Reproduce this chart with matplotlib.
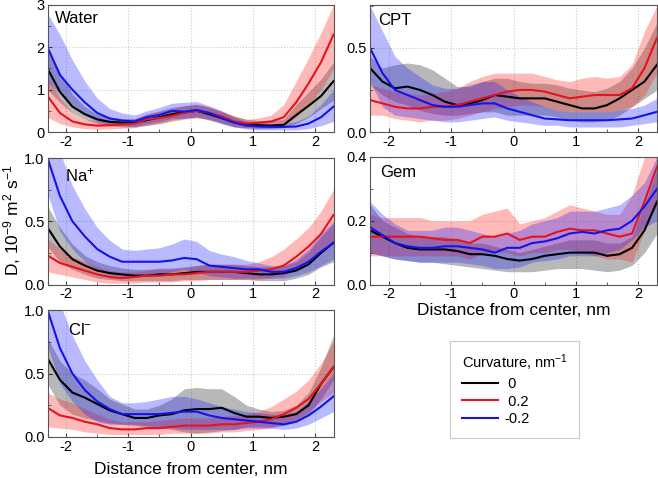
import matplotlib
matplotlib.use("Agg")
import matplotlib.pyplot as plt
from matplotlib.ticker import MultipleLocator, FormatStrFormatter
from matplotlib.lines import Line2D

plt.rcParams['font.family'] = ['Liberation Sans', 'DejaVu Sans']
plt.rcParams['mathtext.fontset'] = 'custom'
plt.rcParams['mathtext.rm'] = 'Liberation Sans'
plt.rcParams['mathtext.default'] = 'regular'
plt.rcParams['axes.unicode_minus'] = False

# distance from center, nm
x = [-2.3, -2.1, -1.9, -1.7, -1.5, -1.3, -1.1, -0.9, -0.7, -0.5, -0.3, -0.1,
     0.1, 0.3, 0.5, 0.7, 0.9, 1.1, 1.3, 1.5, 1.7, 1.9, 2.1, 2.3]

curv_labels = [' 0', ' 0.2', '-0.2']

# each panel: [curvature 0, curvature 0.2, curvature -0.2]
water_mean = [
    [1.5, 0.95, 0.6, 0.42, 0.3, 0.24, 0.22, 0.22, 0.28, 0.35, 0.42, 0.47, 0.5, 0.42, 0.33, 0.24, 0.19, 0.16, 0.15, 0.17, 0.4, 0.62, 0.85, 1.2],
    [0.85, 0.45, 0.25, 0.18, 0.15, 0.16, 0.18, 0.2, 0.3, 0.33, 0.38, 0.45, 0.5, 0.45, 0.37, 0.25, 0.2, 0.22, 0.25, 0.35, 0.7, 1.15, 1.65, 2.3],
    [2.0, 1.35, 1.0, 0.7, 0.45, 0.32, 0.27, 0.25, 0.35, 0.4, 0.5, 0.48, 0.52, 0.45, 0.33, 0.22, 0.15, 0.13, 0.12, 0.12, 0.13, 0.2, 0.35, 0.6],
]
water_lo = [
    [1.0, 0.7, 0.45, 0.3, 0.2, 0.15, 0.12, 0.12, 0.15, 0.2, 0.28, 0.32, 0.35, 0.28, 0.2, 0.12, 0.1, 0.08, 0.08, 0.1, 0.2, 0.35, 0.55, 0.75],
    [0.35, 0.2, 0.12, 0.08, 0.06, 0.07, 0.09, 0.1, 0.17, 0.2, 0.25, 0.3, 0.33, 0.3, 0.23, 0.13, 0.1, 0.1, 0.12, 0.15, 0.35, 0.65, 1.0, 1.5],
    [1.2, 0.9, 0.6, 0.4, 0.25, 0.17, 0.15, 0.13, 0.2, 0.25, 0.32, 0.33, 0.36, 0.3, 0.2, 0.12, 0.07, 0.05, 0.05, 0.05, 0.05, 0.08, 0.15, 0.25],
]
water_hi = [
    [2.0, 1.4, 0.9, 0.6, 0.42, 0.35, 0.32, 0.32, 0.42, 0.5, 0.58, 0.62, 0.65, 0.58, 0.48, 0.38, 0.3, 0.27, 0.27, 0.3, 0.65, 0.95, 1.25, 1.65],
    [1.3, 0.8, 0.45, 0.3, 0.27, 0.27, 0.28, 0.3, 0.43, 0.48, 0.55, 0.62, 0.66, 0.6, 0.5, 0.38, 0.3, 0.33, 0.4, 0.65, 1.2, 1.75, 2.35, 3.0],
    [2.8, 2.3, 1.7, 1.2, 0.8, 0.55, 0.45, 0.4, 0.5, 0.58, 0.68, 0.7, 0.72, 0.62, 0.5, 0.35, 0.25, 0.22, 0.2, 0.2, 0.25, 0.38, 0.65, 1.0],
]

cpt_mean = [
    [0.38, 0.3, 0.26, 0.27, 0.25, 0.22, 0.18, 0.16, 0.17, 0.19, 0.22, 0.21, 0.2, 0.2, 0.2, 0.18, 0.16, 0.14, 0.14, 0.16, 0.2, 0.25, 0.3, 0.4],
    [0.19, 0.17, 0.15, 0.14, 0.14, 0.15, 0.15, 0.16, 0.18, 0.2, 0.22, 0.24, 0.25, 0.25, 0.24, 0.22, 0.2, 0.21, 0.22, 0.22, 0.22, 0.26, 0.38, 0.56],
    [0.5, 0.35, 0.25, 0.22, 0.19, 0.16, 0.15, 0.15, 0.16, 0.17, 0.17, 0.14, 0.12, 0.1, 0.08, 0.075, 0.07, 0.07, 0.07, 0.07, 0.075, 0.08, 0.1, 0.12],
]
cpt_lo = [
    [0.28, 0.22, 0.18, 0.16, 0.13, 0.11, 0.1, 0.1, 0.11, 0.12, 0.12, 0.1, 0.1, 0.1, 0.1, 0.09, 0.07, 0.06, 0.06, 0.07, 0.1, 0.15, 0.2, 0.25],
    [0.1, 0.1, 0.08, 0.07, 0.06, 0.07, 0.07, 0.08, 0.1, 0.12, 0.14, 0.15, 0.16, 0.16, 0.15, 0.13, 0.12, 0.12, 0.12, 0.12, 0.13, 0.15, 0.22, 0.35],
    [0.3, 0.15, 0.1, 0.09, 0.08, 0.07, 0.06, 0.06, 0.07, 0.08, 0.09, 0.07, 0.06, 0.05, 0.04, 0.04, 0.03, 0.03, 0.03, 0.03, 0.03, 0.04, 0.05, 0.06],
]
cpt_hi = [
    [0.45, 0.38, 0.4, 0.41, 0.4, 0.37, 0.32, 0.27, 0.27, 0.3, 0.32, 0.32, 0.3, 0.29, 0.29, 0.28, 0.26, 0.25, 0.24, 0.26, 0.3, 0.38, 0.5, 0.65],
    [0.28, 0.26, 0.24, 0.23, 0.22, 0.23, 0.24, 0.26, 0.3, 0.33, 0.35, 0.35, 0.35, 0.35, 0.33, 0.31, 0.3, 0.32, 0.33, 0.32, 0.33, 0.4, 0.6, 0.75],
    [0.75, 0.6, 0.45, 0.38, 0.33, 0.28, 0.26, 0.26, 0.28, 0.3, 0.3, 0.25, 0.21, 0.18, 0.15, 0.13, 0.12, 0.12, 0.12, 0.12, 0.13, 0.14, 0.16, 0.2],
]

na_mean = [
    [0.45, 0.3, 0.2, 0.15, 0.11, 0.09, 0.08, 0.07, 0.07, 0.08, 0.08, 0.09, 0.1, 0.1, 0.1, 0.1, 0.09, 0.08, 0.08, 0.09, 0.11, 0.16, 0.25, 0.33],
    [0.23, 0.17, 0.14, 0.11, 0.08, 0.06, 0.05, 0.06, 0.07, 0.07, 0.08, 0.08, 0.09, 0.1, 0.1, 0.1, 0.1, 0.11, 0.12, 0.15, 0.22, 0.3, 0.4, 0.55],
    [1.0, 0.7, 0.5, 0.38, 0.28, 0.22, 0.18, 0.18, 0.18, 0.18, 0.19, 0.21, 0.2, 0.15, 0.14, 0.13, 0.12, 0.12, 0.1, 0.1, 0.13, 0.18, 0.26, 0.33],
]
na_lo = [
    [0.3, 0.18, 0.12, 0.08, 0.05, 0.04, 0.03, 0.03, 0.03, 0.03, 0.03, 0.04, 0.04, 0.04, 0.04, 0.04, 0.04, 0.03, 0.03, 0.03, 0.05, 0.08, 0.14, 0.18],
    [0.1, 0.08, 0.06, 0.04, 0.02, 0.01, 0.01, 0.01, 0.02, 0.02, 0.02, 0.03, 0.03, 0.04, 0.04, 0.04, 0.04, 0.04, 0.05, 0.07, 0.12, 0.18, 0.26, 0.35],
    [0.72, 0.42, 0.28, 0.18, 0.12, 0.08, 0.06, 0.06, 0.07, 0.08, 0.1, 0.12, 0.1, 0.07, 0.06, 0.05, 0.05, 0.05, 0.05, 0.05, 0.07, 0.1, 0.15, 0.2],
]
na_hi = [
    [0.62, 0.45, 0.32, 0.23, 0.18, 0.15, 0.13, 0.12, 0.12, 0.13, 0.13, 0.14, 0.15, 0.16, 0.16, 0.16, 0.15, 0.14, 0.14, 0.15, 0.18, 0.26, 0.38, 0.48],
    [0.36, 0.28, 0.22, 0.18, 0.14, 0.11, 0.1, 0.1, 0.11, 0.12, 0.12, 0.13, 0.15, 0.16, 0.16, 0.16, 0.16, 0.18, 0.22, 0.28, 0.36, 0.45, 0.58, 0.75],
    [1.3, 1.05, 0.78, 0.6, 0.45, 0.35, 0.28, 0.27, 0.28, 0.29, 0.32, 0.36, 0.34, 0.27, 0.24, 0.22, 0.19, 0.17, 0.15, 0.15, 0.2, 0.28, 0.4, 0.5],
]

gem_mean = [
    [0.17, 0.15, 0.13, 0.115, 0.11, 0.11, 0.11, 0.105, 0.095, 0.095, 0.09, 0.08, 0.075, 0.08, 0.09, 0.095, 0.1, 0.1, 0.1, 0.09, 0.095, 0.115, 0.17, 0.26],
    [0.15, 0.15, 0.15, 0.15, 0.15, 0.145, 0.14, 0.14, 0.13, 0.15, 0.15, 0.16, 0.14, 0.15, 0.15, 0.165, 0.175, 0.17, 0.17, 0.16, 0.15, 0.16, 0.26, 0.37],
    [0.18, 0.155, 0.13, 0.12, 0.115, 0.115, 0.12, 0.12, 0.115, 0.11, 0.1, 0.115, 0.115, 0.13, 0.135, 0.145, 0.16, 0.165, 0.16, 0.17, 0.175, 0.2, 0.245, 0.3],
]
gem_lo = [
    [0.1, 0.09, 0.08, 0.075, 0.07, 0.07, 0.065, 0.06, 0.055, 0.05, 0.045, 0.04, 0.04, 0.04, 0.045, 0.05, 0.05, 0.05, 0.045, 0.04, 0.045, 0.06, 0.1, 0.16],
    [0.09, 0.09, 0.09, 0.09, 0.09, 0.09, 0.09, 0.09, 0.08, 0.1, 0.1, 0.1, 0.09, 0.1, 0.1, 0.11, 0.11, 0.1, 0.09, 0.08, 0.08, 0.07, 0.17, 0.25],
    [0.1, 0.09, 0.08, 0.075, 0.07, 0.07, 0.07, 0.07, 0.065, 0.06, 0.05, 0.05, 0.055, 0.07, 0.075, 0.08, 0.09, 0.09, 0.09, 0.1, 0.11, 0.14, 0.18, 0.2],
]
gem_hi = [
    [0.25, 0.2, 0.18, 0.16, 0.15, 0.15, 0.15, 0.14, 0.13, 0.13, 0.12, 0.11, 0.1, 0.11, 0.12, 0.13, 0.14, 0.14, 0.14, 0.13, 0.13, 0.15, 0.25, 0.36],
    [0.22, 0.21, 0.21, 0.21, 0.21, 0.2, 0.2, 0.2, 0.2, 0.22, 0.23, 0.24, 0.19, 0.2, 0.21, 0.23, 0.25, 0.24, 0.23, 0.22, 0.22, 0.28, 0.4, 0.45],
    [0.26, 0.22, 0.19, 0.17, 0.17, 0.17, 0.18, 0.18, 0.17, 0.16, 0.15, 0.16, 0.17, 0.19, 0.2, 0.21, 0.23, 0.23, 0.23, 0.24, 0.25, 0.28, 0.32, 0.4],
]

cl_mean = [
    [0.62, 0.45, 0.35, 0.31, 0.26, 0.21, 0.18, 0.15, 0.15, 0.17, 0.18, 0.21, 0.22, 0.22, 0.23, 0.19, 0.16, 0.16, 0.15, 0.16, 0.18, 0.25, 0.42, 0.55],
    [0.23, 0.17, 0.15, 0.12, 0.1, 0.07, 0.06, 0.06, 0.07, 0.07, 0.08, 0.09, 0.09, 0.09, 0.1, 0.1, 0.11, 0.12, 0.14, 0.18, 0.23, 0.3, 0.42, 0.55],
    [1.0, 0.7, 0.5, 0.37, 0.28, 0.22, 0.18, 0.18, 0.18, 0.18, 0.19, 0.2, 0.2, 0.17, 0.15, 0.14, 0.13, 0.12, 0.11, 0.1, 0.12, 0.17, 0.24, 0.32],
]
cl_lo = [
    [0.42, 0.25, 0.18, 0.15, 0.13, 0.11, 0.1, 0.09, 0.08, 0.07, 0.06, 0.04, 0.03, 0.04, 0.05, 0.06, 0.08, 0.08, 0.08, 0.09, 0.12, 0.18, 0.3, 0.45],
    [0.08, 0.07, 0.06, 0.04, 0.03, 0.02, 0.02, 0.02, 0.02, 0.02, 0.03, 0.03, 0.03, 0.03, 0.04, 0.04, 0.05, 0.06, 0.07, 0.1, 0.14, 0.2, 0.28, 0.35],
    [0.72, 0.42, 0.28, 0.18, 0.12, 0.1, 0.1, 0.1, 0.09, 0.08, 0.07, 0.06, 0.06, 0.06, 0.06, 0.06, 0.07, 0.07, 0.07, 0.06, 0.07, 0.1, 0.15, 0.2],
]
cl_hi = [
    [0.78, 0.6, 0.5, 0.45, 0.38, 0.3, 0.26, 0.22, 0.22, 0.25, 0.3, 0.38, 0.39, 0.38, 0.38, 0.32, 0.25, 0.22, 0.2, 0.21, 0.25, 0.35, 0.55, 0.8],
    [0.35, 0.3, 0.27, 0.22, 0.18, 0.14, 0.12, 0.12, 0.12, 0.13, 0.14, 0.15, 0.15, 0.15, 0.16, 0.17, 0.18, 0.2, 0.24, 0.3, 0.36, 0.45, 0.58, 0.75],
    [1.3, 1.05, 0.8, 0.6, 0.45, 0.32, 0.27, 0.27, 0.28, 0.3, 0.32, 0.32, 0.3, 0.27, 0.24, 0.22, 0.2, 0.19, 0.18, 0.18, 0.2, 0.28, 0.38, 0.5],
]

line_colors = ['#000000', '#e3141c', '#1414e6']
band_colors = ['#000000', '#ff1a1a', '#1a1aff']
band_alpha = [0.28, 0.3, 0.3]

W, H = 658, 478
fig = plt.figure(figsize=(W / 100, H / 100), dpi=100)


def px_axes(left, top, right, bottom):
    return fig.add_axes([left / W, 1 - bottom / H, (right - left) / W, (bottom - top) / H])


def draw_panel(ax, mean, lo, hi, title, tpos, ymax, ymajor, yminor, yfmt):
    for i in range(3):
        ax.fill_between(x, lo[i], hi[i], color=band_colors[i], alpha=band_alpha[i], lw=0)
    for i in range(3):
        ax.plot(x, mean[i], color=line_colors[i], lw=1.5)
    ax.set_xlim(-2.3, 2.3)
    ax.set_ylim(0, ymax)
    ax.xaxis.set_major_locator(MultipleLocator(1))
    ax.xaxis.set_minor_locator(MultipleLocator(0.5))
    ax.yaxis.set_major_locator(MultipleLocator(ymajor))
    ax.yaxis.set_minor_locator(MultipleLocator(yminor))
    ax.yaxis.set_major_formatter(FormatStrFormatter(yfmt))
    ax.grid(True, which='major', color='#b9d6bd', ls=':', lw=0.8)
    ax.set_axisbelow(True)
    ax.tick_params(which='both', direction='in', labelsize=10.5, color='#444444', pad=2)
    ax.tick_params(which='major', length=3)
    ax.tick_params(which='minor', length=2)
    for s in ax.spines.values():
        s.set_color('#555555')
        s.set_linewidth(0.8)
    ax.text(tpos[0], tpos[1], title, transform=ax.transAxes, fontsize=12, va='center', ha='left')


ax1 = px_axes(47.5, 5, 333.5, 132)
draw_panel(ax1, water_mean, water_lo, water_hi, 'Water', (0.025, 0.89), 3, 1, 0.5, '%d')
ax2 = px_axes(370, 5, 657, 132)
draw_panel(ax2, cpt_mean, cpt_lo, cpt_hi, 'CPT', (0.03, 0.88), 0.755, 0.5, 0.25, '%.1f')
ax3 = px_axes(47.5, 158, 333.5, 284.5)
draw_panel(ax3, na_mean, na_lo, na_hi, 'Na$^{+}$', (0.06, 0.865), 1.0, 0.5, 0.25, '%.1f')
ax4 = px_axes(370, 157, 657, 284.5)
draw_panel(ax4, gem_mean, gem_lo, gem_hi, 'Gem', (0.035, 0.877), 0.4, 0.2, 0.1, '%.1f')
ax5 = px_axes(47.5, 310, 333.5, 437)
draw_panel(ax5, cl_mean, cl_lo, cl_hi, 'Cl$^{-}$', (0.07, 0.845), 1.0, 0.5, 0.25, '%.1f')

ax4.set_xlabel('Distance from center, nm', fontsize=12.5, labelpad=1)
ax5.set_xlabel('Distance from center, nm', fontsize=12.5, labelpad=6)
fig.text(12 / W, 1 - 220 / H, 'D, 10$^{-9}$ m$^{2}$ s$^{-1}$', rotation=90,
         fontsize=12.5, ha='center', va='center')

handles = [Line2D([], [], color=c, lw=1.5) for c in line_colors]
leg = fig.legend(handles, curv_labels, title='Curvature, nm$^{-1}$',
                 loc='upper left', bbox_to_anchor=(450 / W, 1 - 341 / H),
                 borderaxespad=0, fontsize=10.5, title_fontsize=10.5,
                 frameon=True, fancybox=False, edgecolor='#bbbbbb',
                 handlelength=2.5, handletextpad=0.4, labelspacing=0.25,
                 borderpad=0.8, alignment='left')
leg.get_frame().set_linewidth(0.8)

fig.savefig('out.png', dpi=100)
